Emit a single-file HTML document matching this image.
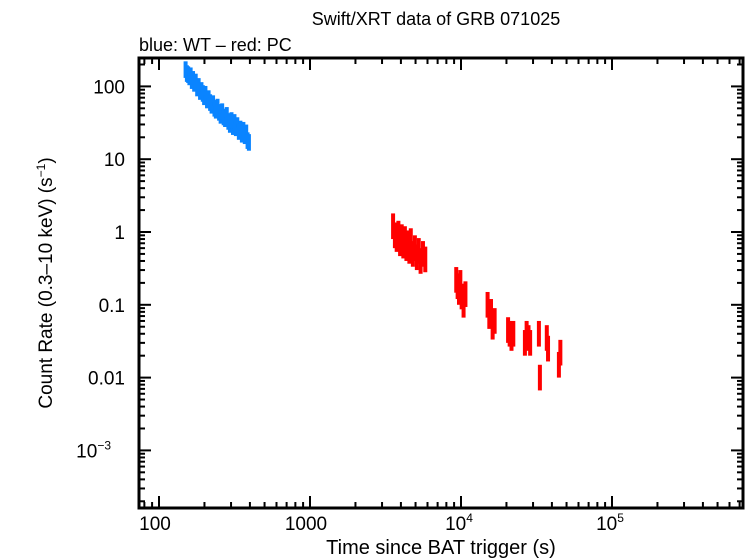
<!DOCTYPE html>
<html><head><meta charset="utf-8"><style>
body{margin:0;background:#fff;}
svg{display:block;font-family:"Liberation Sans",sans-serif;}
</style></head><body>
<svg id="chart" width="746" height="558" xmlns="http://www.w3.org/2000/svg">
<text x="436" y="25" font-size="18" text-anchor="middle">Swift/XRT data of GRB 071025</text>
<text x="139" y="51" font-size="18">blue: WT – red: PC</text>
<g id="marks"></g>
<g id="axes"></g>
<text x="441" y="554" font-size="20" text-anchor="middle">Time since BAT trigger (s)</text>
<text transform="translate(52,283) rotate(-90)" font-size="19" text-anchor="middle">Count Rate (0.3–10 keV) (s<tspan dy="-7" font-size="12">−1</tspan><tspan dy="7">)</tspan></text>
</svg>
<script>
const wtTimes=[150,153,156,159,162,165,168,171,175,179,183,187,191,195,199,203,208,213,218,223,228,233,238,244,250,256,262,268,274,281,288,295,302,309,316,323,330,338,346,354,362,370,378,386,394];
const wtRates=[170,150,145,135,140,120,125,110,115,95,100,85,88,80,72,78,65,68,60,55,58,50,47,52,44,40,45,38,36,40,33,30,34,28,32,27,29,24,26,22,25,21,23,18,17];
const pcTimes=[3550,3650,3750,3850,3950,4050,4150,4250,4350,4450,4550,4650,4800,4950,5100,5250,5400,5600,5800,9300,9500,9700,9900,10100,10400,10700,15000,15400,15800,16200,16700,20500,21000,21600,22200,26500,27200,28000,28700,32800,33300,37000,37700,44500,45500];
const pcRates=[1.2,0.9,0.8,0.95,0.7,0.85,0.65,0.8,0.6,0.7,0.55,0.75,0.5,0.6,0.45,0.55,0.4,0.5,0.42,0.22,0.18,0.15,0.2,0.13,0.1,0.14,0.1,0.07,0.08,0.05,0.06,0.045,0.04,0.035,0.04,0.03,0.04,0.035,0.03,0.04,0.01,0.035,0.025,0.015,0.022];
const xTicks=[100,1000,10000,100000];
const xTickLabels=["100","1000","10","10"];
const xTickExp=["","","4","5"];
const yTicks=[100,10,1,0.1,0.01,0.001];
const yTickLabels=["100","10","1","0.1","0.01","10"];
const yTickExp=["","","","","","−3"];
const L=139,R=743,T=58,B=508;
const xs=t=>310+151*(Math.log10(t)-3);
const ys=v=>232-72.8*Math.log10(v);
const NS="http://www.w3.org/2000/svg";
function mk(tag,at,parent){const e=document.createElementNS(NS,tag);for(const k in at)e.setAttribute(k,at[k]);parent.appendChild(e);return e;}
const marks=document.getElementById('marks'),axes=document.getElementById('axes');
function series(times,rates,color,name,err,w){
  for(let i=0;i<times.length;i++){
    const x=xs(times[i]),y=ys(rates[i]);
    const g=mk('g',{},marks);
    
    
    mk('line',{x1:x,x2:x,y1:ys(rates[i]*err),y2:ys(rates[i]/err),stroke:color,'stroke-width':w},g);
    mk('line',{x1:xs(times[i]*0.985),x2:xs(times[i]*1.015),y1:y,y2:y,stroke:color,'stroke-width':3},g);
  }
}
series(wtTimes,wtRates,'#0a84ff','wt',1.3,4);
series(pcTimes,pcRates,'#ff0000','pc',1.5,4);
const fr=mk('rect',{x:L,y:T,width:R-L,height:B-T,fill:'none',stroke:'#000','stroke-width':3},axes);


for(let d=1;d<=6;d++){for(let m=1;m<10;m++){const t=m*Math.pow(10,d);const x=xs(t);if(x<L||x>R)continue;const len=m==1?12:6;
 mk('line',{x1:x,x2:x,y1:B,y2:B-len,stroke:'#000','stroke-width':2},axes);
 mk('line',{x1:x,x2:x,y1:T,y2:T+len,stroke:'#000','stroke-width':2},axes);}}
for(let d=-4;d<=3;d++){for(let m=1;m<10;m++){const v=m*Math.pow(10,d);const y=ys(v);if(y<T||y>B)continue;const len=m==1?12:6;
 mk('line',{x1:L,x2:L+len,y1:y,y2:y,stroke:'#000','stroke-width':2},axes);
 mk('line',{x1:R,x2:R-len,y1:y,y2:y,stroke:'#000','stroke-width':2},axes);}}
xTicks.forEach((t,i)=>{const tx=mk('text',{x:xs(t)-(xTickExp[i]?2:4),y:530,'font-size':19,'text-anchor':'middle'},axes);
 
 
 tx.textContent=xTickLabels[i];
 if(xTickExp[i]){const s=mk('tspan',{dy:-8,'font-size':12},tx);s.textContent=xTickExp[i];}});
yTicks.forEach((v,i)=>{const tx=mk('text',{x:L-14-(yTickExp[i]?14:0),y:ys(v)+7,'font-size':19,'text-anchor':'end'},axes);
 
 
 tx.textContent=yTickLabels[i];
 if(yTickExp[i]){const s=mk('tspan',{dy:-8,'font-size':12},tx);s.textContent=yTickExp[i];}});
</script>
</body></html>
